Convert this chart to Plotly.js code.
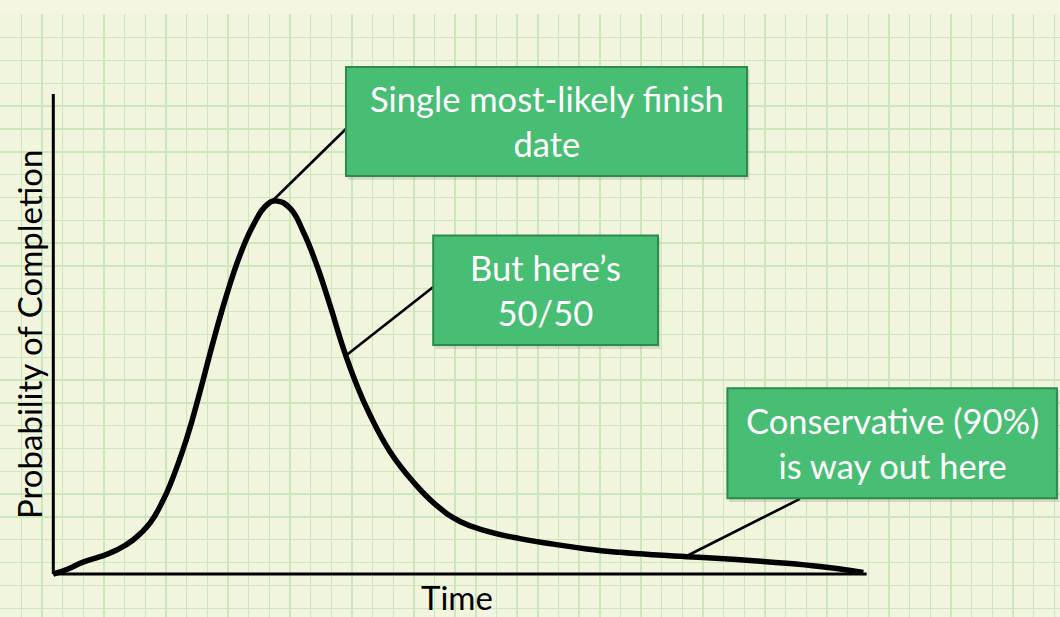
<!DOCTYPE html>
<html>
<head>
<meta charset="utf-8">
<script src="https://cdn.plot.ly/plotly-3.0.1.min.js"></script>
<style>
  html, body { margin: 0; padding: 0; background: #f4f6e2; }
  #chart { width: 1060px; height: 617px; }
</style>
</head>
<body>
<div id="chart"></div>
<script>
// Time (grid cells) and probability of completion (grid cells)
const time = [0, 0.65, 1.44, 2.26, 3.07, 3.86, 4.68, 5.32, 5.65, 6.46, 7.10, 7.74, 8.39, 9.04, 9.68,
  10.33, 10.81, 11.46, 12.10, 12.75, 13.39, 14.04, 14.69, 15.33, 16.30, 17.42, 18.56, 19.69,
  20.98, 22.58, 24.20, 25.82, 27.43, 29.04, 30.66, 32.27, 33.88, 35.50, 37.11, 38.08, 39.21];
const probability = [0, 0.20, 0.52, 0.76, 1.05, 1.49, 2.23, 3.24, 3.90, 5.95, 7.99, 10.18, 12.23, 13.98, 15.29,
  16.17, 16.35, 16.03, 15.00, 13.54, 11.79, 9.89, 8.28, 6.97, 5.36, 4.04, 3.00, 2.30,
  1.88, 1.55, 1.31, 1.10, 0.95, 0.84, 0.76, 0.68, 0.58, 0.47, 0.33, 0.22, 0.07];

// Callouts: text, point on the curve they point at, box extent
const calloutText = ['Single most-likely finish<br>date', 'But here\u2019s<br>50/50', 'Conservative (90%)<br>is way out here'];
const calloutTime = [10.65, 14.20, 30.66];
const calloutProb = [16.39, 9.60, 0.79];
const boxX0 = [14.17, 18.39, 32.63];
const boxX1 = [33.58, 29.27, 48.58];
const boxY0 = [17.44, 10.03, 3.32];
const boxY1 = [22.22, 14.83, 8.14];
const linkTime = [14.26, 18.39, 36.14];
const linkProb = [19.59, 12.58, 3.29];

const axisXMax = 39.37;
const axisYMax = 21.03;
const xTitle = 'Time';
const yTitle = 'Probability of Completion';

const FONT = 'Lato, "Open Sans", sans-serif';

const shapes = [];
// axes
shapes.push({type: 'line', xref: 'x', yref: 'y', x0: 0, y0: 0, x1: 0, y1: axisYMax, line: {color: '#000', width: 3}});
shapes.push({type: 'line', xref: 'x', yref: 'y', x0: 0, y0: 0, x1: axisXMax, y1: 0, line: {color: '#000', width: 3}});

const annotations = [];
for (let i = 0; i < calloutText.length; i++) {
  // connector
  shapes.push({type: 'line', xref: 'x', yref: 'y', x0: calloutTime[i], y0: calloutProb[i],
    x1: linkTime[i], y1: linkProb[i], line: {color: '#000', width: 2.6}});
  // shadow
  shapes.push({type: 'rect', xref: 'x', yref: 'y', x0: boxX0[i] + 0.08, x1: boxX1[i] + 0.12,
    y0: boxY0[i] - 0.16, y1: boxY1[i] - 0.08, fillcolor: 'rgba(60,70,40,0.16)', line: {width: 0}});
  // box
  shapes.push({type: 'rect', xref: 'x', yref: 'y', x0: boxX0[i], x1: boxX1[i], y0: boxY0[i], y1: boxY1[i],
    fillcolor: '#47be73', line: {color: '#2b8a4c', width: 2}});
  annotations.push({xref: 'x', yref: 'y', x: (boxX0[i] + boxX1[i]) / 2, y: (boxY0[i] + boxY1[i]) / 2,
    text: calloutText[i], showarrow: false, xanchor: 'center', yanchor: 'middle', align: 'center',
    font: {family: FONT, size: 34.5, color: '#ffffff'}});
}
annotations.push({xref: 'x', yref: 'paper', x: (457 - 53.3) / 20.66, y: 0, yanchor: 'bottom', yshift: -2,
  text: xTitle, showarrow: false, font: {family: FONT, size: 33, color: '#000'}});
annotations.push({xref: 'paper', yref: 'y', x: 0, xanchor: 'left', xshift: 7, y: (574 - 335) / 22.82,
  text: yTitle, textangle: -90, showarrow: false, font: {family: FONT, size: 33, color: '#000'}});

const trace = {
  x: time, y: probability, type: 'scatter', mode: 'lines',
  line: {color: '#000', width: 5.5, shape: 'spline', smoothing: 1.3},
  hoverinfo: 'skip'
};

const gridColor = '#cde7bc';
const layout = {
  width: 1060, height: 617,
  margin: {l: 0, r: 0, t: 14, b: 0, pad: 0},
  paper_bgcolor: '#f4f6e2', plot_bgcolor: '#f2f5de',
  showlegend: false,
  xaxis: {range: [-2.58, 48.73], showgrid: true, gridcolor: gridColor, gridwidth: 1.4,
    tick0: 0.454, dtick: 1, showticklabels: false, ticks: '', zeroline: false, showline: false, fixedrange: true},
  yaxis: {range: [-1.884, 24.54], showgrid: true, gridcolor: gridColor, gridwidth: 1.4,
    tick0: 0.5, dtick: 1, showticklabels: false, ticks: '', zeroline: false, showline: false, fixedrange: true},
  shapes: shapes,
  annotations: annotations
};

Plotly.newPlot('chart', [trace], layout, {staticPlot: true, displayModeBar: false});
</script>
</body>
</html>
